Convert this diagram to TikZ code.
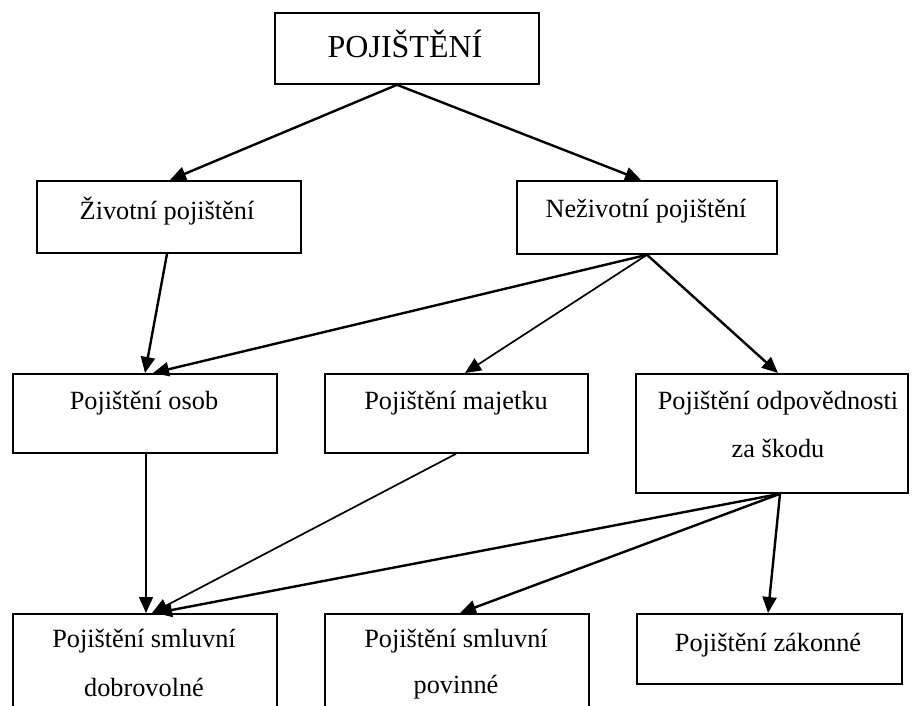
\documentclass[tikz,border=0pt]{standalone}
\usepackage{fontspec}
\setmainfont{Liberation Serif}
\usetikzlibrary{arrows.meta,calc}
\begin{document}
\begin{tikzpicture}[x=1pt,y=-1pt,
  box/.style={draw=black,line width=1.8pt,inner sep=0pt,anchor=north west},
  txt/.style={font=\fontsize{26.3}{45}\selectfont,inner sep=0pt,align=center},
  conn/.style={line width=2.4pt,-{Triangle[length=16pt,width=14pt]}},
  thin/.style={line width=1.7pt,-{Triangle[length=16pt,width=14pt]}}]
\useasboundingbox (0,0) rectangle (912,706);
% boxes
\node[box,minimum width=264pt,minimum height=71pt] (top) at (274,12) {};
\node[box,minimum width=264pt,minimum height=72pt] (ziv) at (36,180) {};
\node[box,minimum width=260pt,minimum height=73pt] (neziv) at (516,180) {};
\node[box,minimum width=264pt,minimum height=79pt] (osob) at (12,373) {};
\node[box,minimum width=263pt,minimum height=79pt] (maj) at (324,373) {};
\node[box,minimum width=272pt,minimum height=119pt] (odp) at (635,373) {};
\node[box,minimum width=264pt,minimum height=110pt] (dobr) at (12,613) {};
\node[box,minimum width=264pt,minimum height=110pt] (pov) at (324,613) {};
\node[box,minimum width=265pt,minimum height=70pt] (zak) at (636,613) {};
% texts
\node[txt,font=\fontsize{32}{38}\selectfont] (ttop) at (405,44) {POJIŠTĚNÍ};
\node[txt] (tziv) at (167,211) {Životní pojištění};
\node[txt] (tneziv) at (646,211) {Neživotní pojištění};
\node[txt] (tosob) at (144,403) {Pojištění osob};
\node[txt] (tmaj) at (456,403) {Pojištění majetku};
\node[txt] (todp1) at (778,403) {Pojištění odpovědnosti};
\node[txt] (todp2) at (778,448) {za škodu};
\node[txt] (tdobr1) at (144,641) {Pojištění smluvní};
\node[txt] (tdobr2) at (144,687) {dobrovolné};
\node[txt] (tpov1) at (456,641) {Pojištění smluvní};
\node[txt] (tpov2) at (456,687) {povinné};
\node[txt] (tzak) at (768,645) {Pojištění zákonné};
% connector points
\coordinate (topS) at ($(top.south west)+(123,0)$);
\coordinate (zivN) at ($(ziv.north west)+(134,0)$);
\coordinate (zivS) at ($(ziv.south west)+(131,0)$);
\coordinate (nezivN) at ($(neziv.north west)+(125,0)$);
\coordinate (nezivS) at ($(neziv.south west)+(131,0)$);
\coordinate (osobN1) at ($(osob.north west)+(133,0)$);
\coordinate (osobN2) at ($(osob.north west)+(141,0)$);
\coordinate (osobS) at ($(osob.south west)+(134,0)$);
\coordinate (majN) at ($(maj.north west)+(141,0)$);
\coordinate (majS) at ($(maj.south west)+(132,0)$);
\coordinate (odpN) at ($(odp.north west)+(143,0)$);
\coordinate (odpS) at ($(odp.south west)+(145,0)$);
\coordinate (dobrN1) at ($(dobr.north west)+(134,0)$);
\coordinate (dobrN2) at ($(dobr.north west)+(140,0)$);
\coordinate (dobrN3) at ($(dobr.north west)+(144,0)$);
\coordinate (povN) at ($(pov.north west)+(136,0)$);
\coordinate (zakN) at ($(zak.north west)+(132,0)$);
% connectors
\draw[conn] (topS) -- (zivN);
\draw[conn] (topS) -- (nezivN);
\draw[conn] (zivS) -- (osobN1);
\draw[conn] (nezivS) -- (osobN2);
\draw[thin] (nezivS) -- (majN);
\draw[conn] (nezivS) -- (odpN);
\draw[thin] (osobS) -- (dobrN1);
\draw[thin] (majS) -- (dobrN2);
\draw[conn] (odpS) -- (dobrN3);
\draw[conn] (odpS) -- (povN);
\draw[conn] (odpS) -- (zakN);
\end{tikzpicture}
\end{document}
